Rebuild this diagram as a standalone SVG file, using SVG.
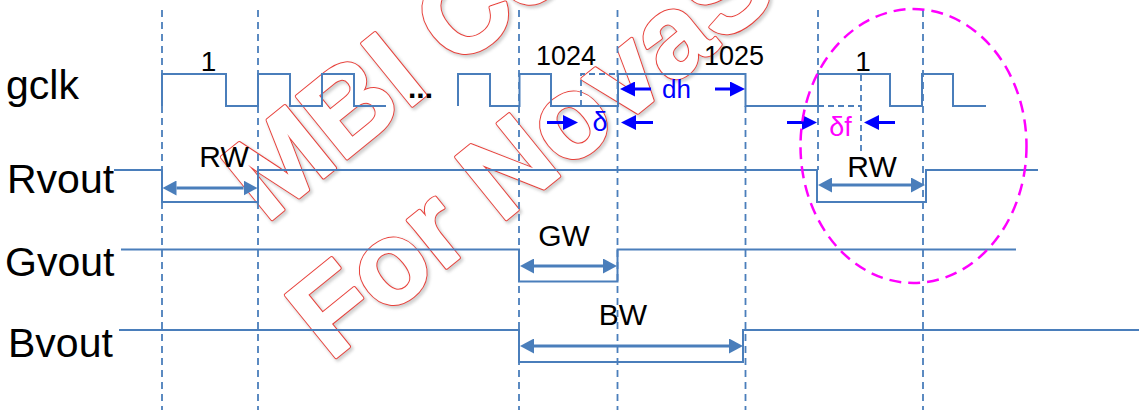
<svg xmlns="http://www.w3.org/2000/svg" xmlns:xlink="http://www.w3.org/1999/xlink" width="1139" height="410" viewBox="0 0 1139 410">
<style>
.sig{fill:none;stroke:#4A7EBB;stroke-width:2;stroke-linejoin:miter}
.grid{fill:none;stroke:#4A7EBB;stroke-width:1.8;stroke-dasharray:7 5}
.dsh{fill:none;stroke:#4A7EBB;stroke-width:1.8;stroke-dasharray:6 4}
.dim{stroke:#4A7EBB;stroke-width:3;marker-start:url(#dimHead);marker-end:url(#dimHead)}
.barr{stroke:#0000FF;stroke-width:3;marker-end:url(#blueHead)}
.lbl{font-family:"Liberation Sans",Arial,sans-serif;fill:#000}
.big{font-size:41px}
.mid{font-size:30px;text-anchor:middle}
.num{font-size:27px;text-anchor:middle}
.wm{font-family:"Liberation Sans",Arial,sans-serif;font-weight:bold;font-size:116px}
</style>
<defs>
<marker id="dimHead" viewBox="0 0 14 15" refX="0" refY="7.5" markerWidth="14" markerHeight="15" markerUnits="userSpaceOnUse" orient="auto-start-reverse"><path d="M0,0 L14,7.5 L0,15 z" fill="#4A7EBB"/></marker>
<marker id="blueHead" viewBox="0 0 15 15" refX="0" refY="7.5" markerWidth="15" markerHeight="15" markerUnits="userSpaceOnUse" orient="auto"><path d="M0,0 L15,7.5 L0,15 z" fill="#0000FF"/></marker>
<filter id="blur" x="-10%" y="-10%" width="120%" height="120%"><feGaussianBlur stdDeviation="1.5"/></filter>
<g id="wmText" class="wm">
<text transform="translate(266,224) rotate(-39)">MBI Co</text>
<text transform="translate(330,362) rotate(-39)">For NovaSt</text>
</g>
</defs>
<rect width="1139" height="410" fill="#fff"/>
<g id="watermark">
<use xlink:href="#wmText" transform="translate(2,2)" fill="#999" stroke="#999" stroke-width="5" stroke-linejoin="round" opacity="0.45" filter="url(#blur)"/>
<use xlink:href="#wmText" fill="#E8403A" stroke="#E8403A" stroke-width="4" stroke-linejoin="round"/>
<use xlink:href="#wmText" fill="#fff" stroke="#fff" stroke-width="2" stroke-linejoin="round"/>
</g>
<g id="gridlines">
<line class="grid" x1="162" y1="10" x2="162" y2="410"/>
<line class="grid" x1="258" y1="10" x2="258" y2="410"/>
<line class="grid" x1="519" y1="10" x2="519" y2="410"/>
<line class="grid" x1="617.5" y1="10" x2="617.5" y2="410"/>
<line class="grid" x1="745.5" y1="106" x2="745.5" y2="410"/>
<line class="grid" x1="818" y1="10" x2="818" y2="170"/>
<line class="grid" x1="923" y1="10" x2="923" y2="410"/>
<line class="dsh" x1="861" y1="75" x2="861" y2="152"/>
</g>
<g id="gclk">
<text class="lbl big" x="6" y="99">gclk</text>
<path class="sig" d="M162,106 V74 H226 V106 H258 V74 H290 V106 H322 V74 H354 V106 H386"/>
<path class="sig" d="M458,106 V74 H490 V106 H519.5 V74 H551 V106 H618 V74 H745.5 V106 H818 V74 H890 V106 H922 V74 H953 V106 H986"/>
<path class="dsh" d="M581,106 V74 H617"/>
<path class="dsh" d="M818,106 H861"/>
<text class="lbl" x="420.5" y="98" font-size="30" font-weight="bold" text-anchor="middle">...</text>
<text class="lbl" x="208.5" y="70.5" font-size="28" text-anchor="middle">1</text>
<text class="lbl num" x="566" y="65">1024</text>
<text class="lbl num" x="734" y="65">1025</text>
<text class="lbl" x="863" y="70.5" font-size="28" text-anchor="middle">1</text>
</g>
<g id="rvout">
<text class="lbl big" x="7" y="193">Rvout</text>
<path class="sig" d="M114,170 H162 V202 H258 V170 H817 V202 H926 V170 H1038"/>
<text class="lbl mid" x="224" y="167">RW</text>
<text class="lbl mid" x="872" y="177">RW</text>
</g>
<g id="gvout">
<text class="lbl big" x="5" y="276">Gvout</text>
<path class="sig" d="M121,249.5 H519 V281.5 H617.5 V249.5 H1016"/>
<text class="lbl mid" x="564" y="246">GW</text>
</g>
<g id="bvout">
<text class="lbl big" x="8" y="357">Bvout</text>
<path class="sig" d="M119,330 H519 V362 H743 V330 H1139"/>
<text class="lbl mid" x="623" y="325">BW</text>
</g>
<g id="timing-labels">
<text x="662" y="98" font-family="Liberation Sans,Arial,sans-serif" font-size="26" fill="#0000FF">dh</text>
<text x="600" y="131" font-family="Liberation Sans,Arial,sans-serif" font-size="27" fill="#0000FF" text-anchor="middle">δ</text>
<text x="840.5" y="136" font-family="Liberation Sans,Arial,sans-serif" font-size="27" fill="#FF00FF" text-anchor="middle">δf</text>
</g>
<g id="connectors">
<line class="dim" x1="176.5" y1="188" x2="243.5" y2="188"/>
<line class="dim" x1="832" y1="185" x2="911" y2="185"/>
<line class="dim" x1="534" y1="266" x2="603" y2="266"/>
<line class="dim" x1="534" y1="346" x2="729" y2="346"/>
<line class="barr" x1="651" y1="89" x2="635" y2="89"/>
<line class="barr" x1="715" y1="89" x2="730" y2="89"/>
<line class="barr" x1="547" y1="122.5" x2="563" y2="122.5"/>
<line class="barr" x1="653" y1="122.5" x2="636" y2="122.5"/>
<line class="barr" x1="787" y1="122.5" x2="802" y2="122.5"/>
<line class="barr" x1="895" y1="122.5" x2="879" y2="122.5"/>
</g>
<g id="highlight">
<ellipse cx="913.5" cy="146" rx="113" ry="137" fill="none" stroke="#FF00FF" stroke-width="2.5" stroke-dasharray="12 7"/>
</g>
</svg>
